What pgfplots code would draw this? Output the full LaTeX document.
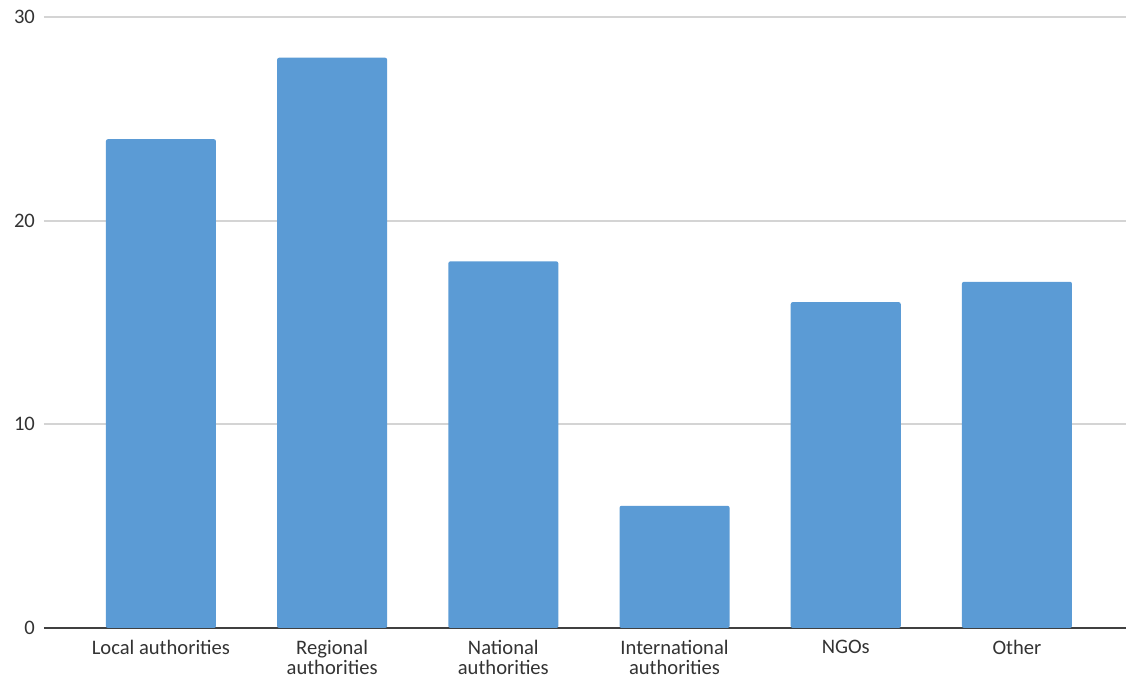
\documentclass[border=0pt]{standalone}
\usepackage{fontspec}
\setmainfont{Carlito}
\usepackage{pgfplots}
\pgfplotsset{compat=1.18}
\definecolor{barblue}{HTML}{5B9BD5}
\definecolor{gridgray}{HTML}{D4D4D4}
\definecolor{txt}{HTML}{333333}

\begin{document}
\begin{tikzpicture}
\begin{axis}[
  name=ax,
  scale only axis,
  width=541pt, height=305.5pt,
  xmin=-0.683, xmax=5.637,
  ymin=0, ymax=30,
  ytick={10,20,30},
  extra y ticks={0},
  extra y tick style={major grid style={draw=black!75, line width=0.8pt}},
  ymajorgrids,
  major grid style={draw=gridgray, line width=1pt},
  axis line style={draw=none},
  tick style={draw=none},
  xtick=data,
  xticklabels={Local authorities,{Regional\\authorities},{National\\authorities},{International\\authorities},NGOs,Other},
  xticklabel style={align=center, font=\fontsize{10.3}{10.2}\selectfont, text=txt, yshift=-2.5pt},
  yticklabel style={font=\fontsize{10.3}{12}\selectfont, text=txt, xshift=-1pt},
  /pgf/number format/assume math mode=true,
  clip=false,
]
\addplot[ybar, bar width=55pt, fill=barblue, draw=none, rounded corners=1pt] coordinates {
  (0,24) (1,28) (2,18) (3,6) (4,16) (5,17)
};
\end{axis}
\pgfresetboundingbox
\path[use as bounding box] ([xshift=-22pt,yshift=-25.5pt]ax.south west) rectangle ([yshift=8.5pt]ax.north east);
\end{tikzpicture}
\end{document}
